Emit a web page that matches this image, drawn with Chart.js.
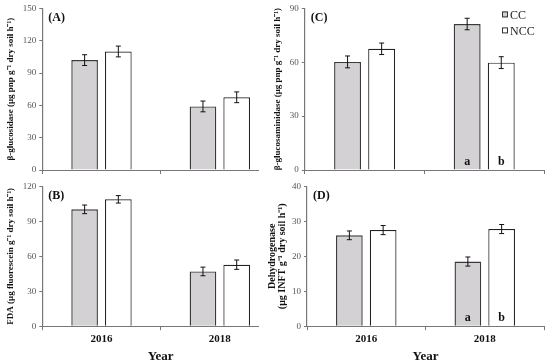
<!DOCTYPE html>
<html>
<head>
<meta charset="utf-8">
<script src="https://cdn.jsdelivr.net/npm/chart.js@4.4.1/dist/chart.umd.min.js"></script>
<style>
  body { margin: 0; background: #fff; }
  #page { position: relative; width: 550px; height: 362px; overflow: hidden; background: #fff; }
  .panel { position: absolute; overflow: hidden; }
</style>
</head>
<body>
<div id="page">
  <div class="panel" style="left:0;top:0;width:259px;height:181px"><canvas id="chartA" width="283" height="181"></canvas></div>
  <div class="panel" style="left:0;top:178px;width:259px;height:186px"><canvas id="chartB" width="283" height="186"></canvas></div>
  <div class="panel" style="left:266px;top:0;width:284px;height:181px"><canvas id="chartC" width="284" height="181"></canvas></div>
  <div class="panel" style="left:263px;top:178px;width:287px;height:186px"><canvas id="chartD" width="287" height="186"></canvas></div>
</div>
<script>
// categorias e series
const years = ['2016', '2018'];

const glucosidaseCC = [102, 59];
const glucosidaseCCErr = [5, 5];
const glucosidaseNCC = [110, 67.5];
const glucosidaseNCCErr = [5, 5];

const fdaCC = [100.3, 47];
const fdaCCErr = [3.7, 3.7];
const fdaNCC = [108.9, 52.8];
const fdaNCCErr = [3.2, 4];

const glucosaminidaseCC = [60.2, 81.3];
const glucosaminidaseCCErr = [3.3, 3.2];
const glucosaminidaseNCC = [67.5, 59.8];
const glucosaminidaseNCCErr = [3.2, 3.3];

const dehydrogenaseCC = [26, 18.5];
const dehydrogenaseCCErr = [1.25, 1.3];
const dehydrogenaseNCC = [27.5, 27.8];
const dehydrogenaseNCCErr = [1.3, 1.3];

// letras de significancia (so em C e D)
const lettersCC = ['', 'a'];
const lettersNCC = ['', 'b'];

const serif = '"Liberation Serif", "Times New Roman", serif';

// plugin para barras de erro, letras, rotulo do painel e legenda
const extrasPlugin = {
    id: 'extras',
    afterDatasetsDraw(chart) {
        const ctx = chart.ctx;
        const yScale = chart.scales.y;
        ctx.save();
        chart.data.datasets.forEach((ds, i) => {
            const meta = chart.getDatasetMeta(i);
            meta.data.forEach((bar, j) => {
                const v = ds.data[j];
                const e = ds.errors[j];
                const top = yScale.getPixelForValue(v + e);
                const bot = yScale.getPixelForValue(v - e);
                ctx.strokeStyle = '#111';
                ctx.lineWidth = 1;
                ctx.beginPath();
                ctx.moveTo(bar.x, top); ctx.lineTo(bar.x, bot);
                ctx.moveTo(bar.x - 2.5, top); ctx.lineTo(bar.x + 2.5, top);
                ctx.moveTo(bar.x - 2.5, bot); ctx.lineTo(bar.x + 2.5, bot);
                ctx.stroke();
                if (ds.letters && ds.letters[j]) {
                    ctx.font = 'bold 12px ' + serif;
                    ctx.fillStyle = '#111';
                    ctx.textAlign = 'center';
                    ctx.textBaseline = 'alphabetic';
                    ctx.fillText(ds.letters[j], bar.x, yScale.getPixelForValue(0) - 5);
                }
            });
        });
        ctx.restore();
    },
    afterDraw(chart, args, opts) {
        const ctx = chart.ctx;
        const area = chart.chartArea;
        ctx.save();
        ctx.fillStyle = '#111';
        ctx.font = 'bold 12px ' + serif;
        ctx.textAlign = 'left';
        ctx.textBaseline = 'middle';
        ctx.fillText(opts.label, area.left + 6, area.top + 10);
        if (opts.legend) {
            ctx.font = '12px ' + serif;
            chart.data.datasets.forEach((ds, i) => {
                const x = area.right - 42;
                const y = area.top + 6 + i * 16;
                ctx.fillStyle = ds.backgroundColor;
                ctx.fillRect(x, y - 3, 6, 6);
                ctx.strokeStyle = '#333';
                ctx.lineWidth = 1;
                ctx.strokeRect(x + 0.5, y - 2.5, 5, 5);
                ctx.fillStyle = '#222';
                ctx.fillText(ds.label, x + 8, y + 1);
            });
        }
        ctx.restore();
    }
};

function makePanel(id, cc, ccErr, ncc, nccErr, yMax, yStep, yTitle, opts) {
    const showX = opts.showX;
    return new Chart(document.getElementById(id), {
        type: 'bar',
        data: {
            labels: years,
            datasets: [{
                label: 'CC',
                data: cc,
                errors: ccErr,
                letters: opts.letters ? lettersCC : null,
                backgroundColor: '#d3d1d3',
                borderColor: '#3a3a3a',
                borderWidth: 1.4
            }, {
                label: 'NCC',
                data: ncc,
                errors: nccErr,
                letters: opts.letters ? lettersNCC : null,
                backgroundColor: '#ffffff',
                borderColor: '#222',
                borderWidth: 1.2
            }]
        },
        options: {
            responsive: false,
            animation: false,
            devicePixelRatio: 1,
            categoryPercentage: 0.57,
            barPercentage: 0.79,
            layout: { padding: opts.padding },
            plugins: {
                legend: { display: false },
                tooltip: { enabled: false },
                extras: { label: opts.label, legend: opts.legend }
            },
            scales: {
                x: {
                    grid: { drawOnChartArea: false, tickLength: 4, color: '#777' },
                    border: { color: '#777', width: 1 },
                    ticks: {
                        display: showX,
                        padding: 2,
                        color: '#111',
                        font: { family: serif, size: 11, weight: 'bold' }
                    },
                    title: {
                        display: showX,
                        text: 'Year',
                        color: '#111',
                        padding: { top: 1, bottom: 0 },
                        font: { family: serif, size: 13, weight: 'bold' }
                    }
                },
                y: {
                    min: 0,
                    max: yMax,
                    grid: { drawOnChartArea: false, tickLength: 3, color: '#777' },
                    border: { color: '#777', width: 1.2 },
                    ticks: {
                        stepSize: yStep,
                        padding: 3,
                        color: '#555',
                        font: { family: serif, size: 9 }
                    },
                    title: {
                        display: true,
                        text: yTitle,
                        color: '#111',
                        padding: { top: 0, bottom: opts.titleGap },
                        font: { family: serif, size: opts.titleSize, weight: 'bold', lineHeight: opts.titleLine }
                    }
                }
            }
        },
        plugins: [extrasPlugin]
    });
}

makePanel('chartA', glucosidaseCC, glucosidaseCCErr, glucosidaseNCC, glucosidaseNCCErr, 150, 30,
    'β-glucosidase (μg pnp g⁻¹ dry soil h⁻¹)',
    { label: '(A)', showX: false, titleSize: 9, titleLine: 1.2, titleGap: 4,
      padding: { left: 5, right: 4, top: 3, bottom: 7 } });

makePanel('chartB', fdaCC, fdaCCErr, fdaNCC, fdaNCCErr, 120, 30,
    'FDA (μg fluorescein g⁻¹ dry soil h⁻¹)',
    { label: '(B)', showX: true, titleSize: 9, titleLine: 1.2, titleGap: 4,
      padding: { left: 5, right: 4, top: 3, bottom: 0 } });

makePanel('chartC', glucosaminidaseCC, glucosaminidaseCCErr, glucosaminidaseNCC, glucosaminidaseNCCErr, 90, 30,
    'β-glucosaminidase (μg pnp g⁻¹ dry soil h⁻¹)',
    { label: '(C)', showX: false, legend: true, letters: true, titleSize: 9, titleLine: 1.2, titleGap: 4,
      padding: { left: 6, right: 6, top: 3, bottom: 7 } });

makePanel('chartD', dehydrogenaseCC, dehydrogenaseCCErr, dehydrogenaseNCC, dehydrogenaseNCCErr, 40, 10,
    ['Dehydrogenase', '(μg INFT g⁻¹ dry soil h⁻¹)'],
    { label: '(D)', showX: true, letters: true, titleSize: 10, titleLine: 1.05, titleGap: 1,
      padding: { left: 4, right: 6, top: 3, bottom: 0 } });
</script>
</body>
</html>
